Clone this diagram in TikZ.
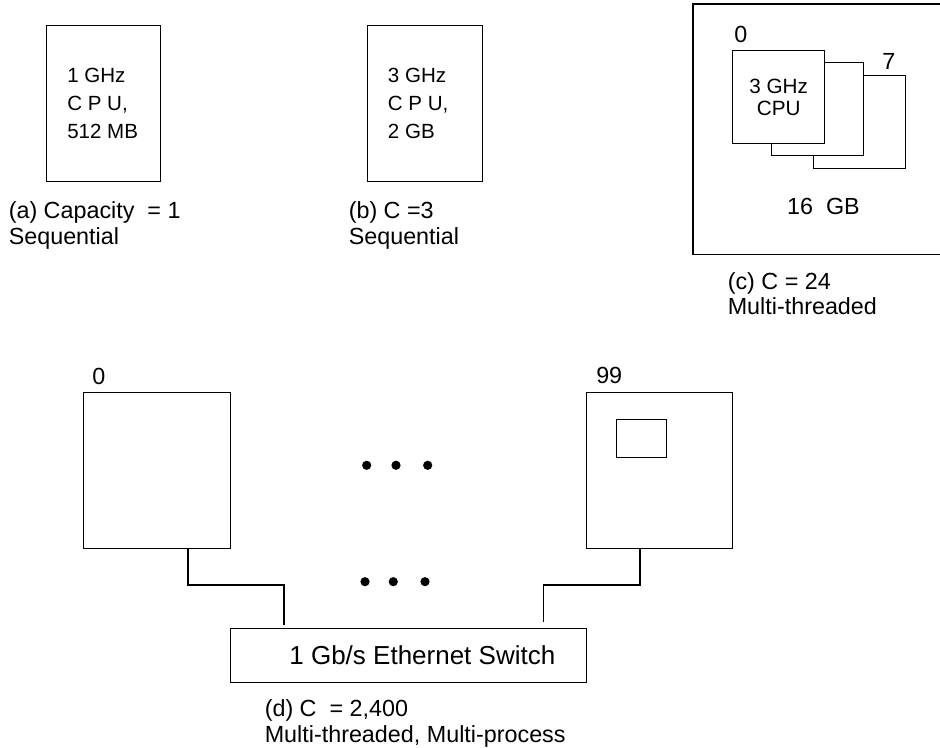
\documentclass[tikz,border=0pt]{standalone}
\usepackage{fontspec}
\setmainfont{Liberation Sans}
\usetikzlibrary{positioning}

\tikzset{
  box/.style={draw, line width=1pt, inner sep=0pt, anchor=north west},
  core/.style={box, fill=white, minimum width=69pt, minimum height=69.75pt},
  lbl/.style={anchor=north west, inner sep=0pt, align=left, font=\fontsize{17.5}{19.3}\selectfont},
  spec/.style={inner sep=0pt, anchor=west, align=left, font=\fontsize{15.4}{20.8}\selectfont},
  num/.style={inner sep=0pt, anchor=base west, font=\fontsize{17.5}{19.3}\selectfont},
  wire/.style={line width=1pt},
}

\begin{document}
\begin{tikzpicture}[x=0.75pt,y=0.75pt,yscale=-1,xscale=1]
        \useasboundingbox (0,0) rectangle (940,748);

        %Rectangle (a)
        \node[box, minimum width=85.5pt, minimum height=117pt] (cpuA) at (46,25) {};
        % Text Node
        \node[spec, right=15.75pt of cpuA.west] (specA) {1 GHz\\C P U,\\512 MB};
        % Text Node
        \node[lbl] (capA) at (8.5,201.5) {(a) Capacity\ \ = 1\\Sequential};

        %Rectangle (b)
        \node[box, minimum width=86.25pt, minimum height=117pt] (cpuB) at (367,25) {};
        % Text Node
        \node[spec, right=15.5pt of cpuB.west] (specB) {3 GHz\\C P U,\\2 GB};
        % Text Node
        \node[lbl] (capB) at (348.5,201.5) {(b) C =3\\Sequential};

        %Rectangle (c), open at the right edge
        \node[box, draw=none, minimum width=185.25pt, minimum height=186.75pt] (smp) at (693,4) {};
        \draw[wire] (smp.north east) -| (smp.south west) -- (smp.south east);
        \node[core] (core7) at (813,75) {};
        \node[core] (core1) at (771,62) {};
        \node[core, align=center, font=\fontsize{15.5}{16.5}\selectfont] (core0) at (732,50) {3 GHz\\CPU};
        % Text Node
        \node[num] (lab0) at (734,43) {0};
        \node[num] (lab7) at (882,70) {7};
        \node[inner sep=0pt, font=\fontsize{17.5}{19.3}\selectfont] (mem) at (823.5,206.5) {16\ \ GB};
        % Text Node
        \node[lbl] (capC) at (727.5,272) {(c) C = 24\\Multi-threaded};

        %Rectangle (d)
        \node[box, minimum width=110.25pt, minimum height=117pt] (pc0) at (83,392) {};
        \node[box, minimum width=109.5pt, minimum height=117pt] (pc99) at (586,392) {};
        \node[box, minimum width=37.5pt, minimum height=28.5pt] (chip) at (616,419) {};
        \node[num] (lab00) at (92,385) {0};
        \node[num] (lab99) at (596,384) {99};
        \node[box, minimum width=267pt, minimum height=40.5pt, font=\fontsize{19.5}{21}\selectfont] (sw) at (230,628) {\hspace{20.5pt}1 Gb/s Ethernet Switch};

        %Straight Lines
        \draw[wire] ([xshift=78.75pt]pc0.south west) |- ([xshift=40.5pt,yshift=-32.25pt]sw.north west) -- ([xshift=40.5pt,yshift=-2.25pt]sw.north west);
        \draw[wire] ([xshift=40.5pt]pc99.south west) |- ([xshift=-33pt,yshift=-32.25pt]sw.north east) -- ([xshift=-33pt,yshift=-4.5pt]sw.north east);

        % Dots
        \foreach \x in {366.7,396,427.7} \fill (\x,465.3) circle[radius=4.6];
        \foreach \x in {365,393.3,425} \fill (\x,581.7) circle[radius=4.6];

        % Text Node
        \node[lbl] (capD) at (264.5,699.5) {(d) C\ \ = 2,400\\Multi-threaded, Multi-process};
\end{tikzpicture}
\end{document}
